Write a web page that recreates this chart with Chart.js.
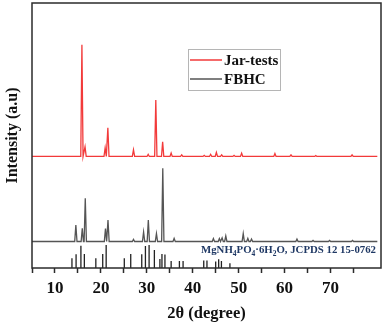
<!DOCTYPE html>
<html>
<head>
<meta charset="utf-8">
<script src="https://cdn.jsdelivr.net/npm/chart.js@4.4.1/dist/chart.umd.min.js"></script>
<style>
  body { margin: 0; background: #fff; }
  #wrap { width: 387px; height: 324px; }
</style>
</head>
<body>
<div id="wrap"><canvas id="xrdChart" width="387" height="324"></canvas></div>
<script>
// XRD patterns: Jar-tests, FBHC and struvite reference sticks

// Jar-tests peaks (2theta, height above its own baseline, a.u.)
const jarPeakPos = [15.87, 16.55, 20.93, 21.52, 27.1, 30.3, 31.96, 33.45, 35.3, 37.6, 42.5, 43.9, 45.15, 46.3, 49.0, 50.65, 57.9, 61.4, 66.8, 74.7];
const jarPeakInt = [42.1, 3.6, 3.2, 10.8, 2.5, 0.8, 21.3, 5.5, 1.3, 0.6, 0.4, 0.8, 1.5, 0.6, 0.4, 1.2, 1.1, 0.6, 0.3, 0.6];

// FBHC peaks
const fbhcPeakPos = [14.55, 15.95, 16.6, 21.0, 21.55, 27.1, 29.3, 30.33, 32.1, 33.48, 35.95, 44.5, 45.8, 46.4, 47.2, 51.0, 52.0, 52.8, 62.7, 66.2, 69.8, 74.8];
const fbhcPeakInt = [6.2, 5.0, 16.3, 4.9, 8.1, 0.8, 3.6, 8.1, 3.0, 27.6, 1.2, 1.1, 1.1, 1.4, 2.1, 3.0, 1.2, 0.9, 0.9, 0.4, 0.4, 0.4];

// JCPDS reference lines
const refPos = [13.7, 14.6, 15.65, 16.4, 18.9, 20.4, 21.15, 25.1, 26.5, 28.9, 29.7, 30.5, 31.65, 32.85, 33.3, 33.95, 35.3, 37.1, 37.9, 42.4, 43.1, 45.0, 45.65, 46.25, 48.1];
const refInt = [3.7, 5.2, 8.4, 5.3, 3.7, 5.3, 8.7, 3.7, 5.3, 5.2, 8.3, 8.7, 6.8, 3.4, 5.3, 5.1, 2.6, 2.6, 2.6, 2.8, 2.8, 2.5, 3.3, 2.6, 1.8];

// vertical stacking of the patterns
const jarBase = 42.1;
const fbhcBase = 10.0;
const scanStart = 5;
const scanEnd = 80.2;

const seriesNames = ['Jar-tests', 'FBHC'];
const xTickStep = 5;

const serifFont = "'Liberation Serif', 'Times New Roman', serif";

// build a trace: flat baseline with narrow peaks
function buildTrace(pos, ints, base) {
    const w = 0.25;
    const pts = [{ x: scanStart, y: base }];
    for (let i = 0; i < pos.length; i++) {
        pts.push({ x: pos[i] - w, y: base });
        pts.push({ x: pos[i], y: base + ints[i] });
        pts.push({ x: pos[i] + w, y: base });
    }
    pts.push({ x: scanEnd, y: base });
    return pts;
}

// build reference sticks, separated by gaps
function buildSticks(pos, ints) {
    const pts = [];
    for (let i = 0; i < pos.length; i++) {
        pts.push({ x: pos[i], y: 0 });
        pts.push({ x: pos[i], y: ints[i] });
        pts.push({ x: pos[i], y: null });
    }
    return pts;
}

// frame around the plot area
const framePlugin = {
    id: 'frame',
    afterDraw(chart) {
        const a = chart.chartArea;
        const ctx = chart.ctx;
        ctx.save();
        ctx.strokeStyle = '#2b2b2b';
        ctx.lineWidth = 1.5;
        ctx.strokeRect(a.left, a.top, a.right - a.left, a.bottom - a.top);
        ctx.restore();
    }
};

// legend box and reference label
const labelPlugin = {
    id: 'labels',
    afterDatasetsDraw(chart) {
        const a = chart.chartArea;
        const ctx = chart.ctx;
        ctx.save();

        // legend
        const lx = a.left + 156, ly = a.top + 46;
        ctx.fillStyle = '#fff';
        ctx.fillRect(lx, ly, 92, 41);
        ctx.strokeStyle = '#b5b5b5';
        ctx.lineWidth = 1;
        ctx.strokeRect(lx + 0.5, ly + 0.5, 92, 41);
        const colors = [chart.data.datasets[0].borderColor, chart.data.datasets[1].borderColor];
        ctx.font = 'bold 15px ' + serifFont;
        ctx.textBaseline = 'middle';
        seriesNames.forEach((name, i) => {
            const y = ly + 11 + i * 19;
            ctx.strokeStyle = colors[i];
            ctx.lineWidth = 1.5;
            ctx.beginPath();
            ctx.moveTo(lx + 2, y);
            ctx.lineTo(lx + 34, y);
            ctx.stroke();
            ctx.fillStyle = '#111';
            ctx.fillText(name, lx + 36, y + 1);
        });

        // reference label with subscripts
        const parts = [['MgNH', 0], ['4', 1], ['PO', 0], ['4', 1], ['\u00b76H', 0], ['2', 1], ['O, JCPDS 12 15-0762', 0]];
        let tx = a.left + 169;
        const ty = a.bottom - 15;
        ctx.fillStyle = '#1f3864';
        ctx.textBaseline = 'alphabetic';
        parts.forEach(([t, sub]) => {
            ctx.font = sub ? 'bold 7.5px ' + serifFont : 'bold 10.8px ' + serifFont;
            ctx.fillText(t, tx, sub ? ty + 3 : ty);
            tx += ctx.measureText(t).width;
        });
        ctx.restore();
    }
};

const ctx = document.getElementById('xrdChart');
new Chart(ctx, {
    type: 'line',
    data: {
        datasets: [
            {
                label: seriesNames[0],
                data: buildTrace(jarPeakPos, jarPeakInt, jarBase),
                borderColor: '#f23a3a',
                borderWidth: 1.3,
                pointRadius: 0,
                tension: 0
            },
            {
                label: seriesNames[1],
                data: buildTrace(fbhcPeakPos, fbhcPeakInt, fbhcBase),
                borderColor: '#555555',
                borderWidth: 1.3,
                pointRadius: 0,
                tension: 0
            },
            {
                label: 'JCPDS',
                data: buildSticks(refPos, refInt),
                borderColor: '#222222',
                borderWidth: 1.3,
                pointRadius: 0,
                spanGaps: false
            }
        ]
    },
    options: {
        responsive: false,
        animation: false,
        parsing: false,
        layout: { padding: { top: 3, right: 6 } },
        plugins: {
            legend: { display: false },
            tooltip: { enabled: false }
        },
        scales: {
            x: {
                type: 'linear',
                min: 5,
                max: 81,
                afterFit(scale) { scale.height = 56; },
                border: { display: false },
                grid: {
                    drawOnChartArea: false,
                    drawTicks: true,
                    tickLength: 5,
                    tickWidth: 1.5,
                    tickColor: (c) => (c.tick && c.tick.value % xTickStep === 0) ? '#2b2b2b' : 'rgba(0,0,0,0)'
                },
                ticks: {
                    stepSize: xTickStep,
                    autoSkip: false,
                    maxRotation: 0,
                    padding: 5,
                    color: '#111',
                    font: { family: serifFont, size: 17, weight: 'bold' },
                    callback: (v) => (v % 10 === 0 ? v : '')
                },
                title: {
                    display: true,
                    text: '2\u03b8 (degree)',
                    color: '#111',
                    padding: { top: 0, bottom: 0 },
                    font: { family: serifFont, size: 16.5, weight: 'bold' }
                }
            },
            y: {
                min: 0,
                max: 100,
                afterFit(scale) { scale.width = 32; },
                border: { display: false },
                grid: { drawOnChartArea: false, drawTicks: false },
                ticks: { display: false },
                title: {
                    display: true,
                    text: 'Intensity (a.u)',
                    color: '#111',
                    padding: { top: 3, bottom: 0 },
                    font: { family: serifFont, size: 16, weight: 'bold' }
                }
            }
        }
    },
    plugins: [framePlugin, labelPlugin]
});
</script>
</body>
</html>
